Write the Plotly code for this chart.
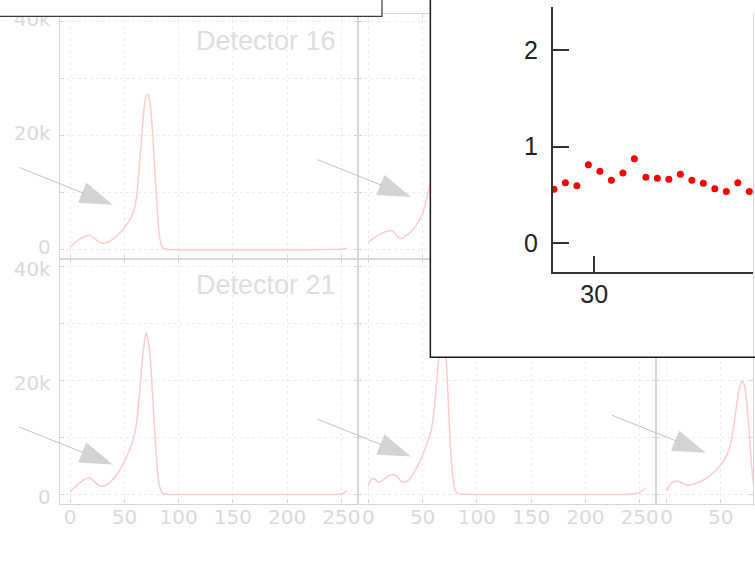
import plotly.graph_objects as go

W, H = 755, 587

# ---------------- data ----------------
channel = [0, 3, 6, 10, 14, 18, 22, 26, 30, 34, 38, 42, 46, 50, 54, 58, 61, 64, 66, 68,
           70, 72, 74, 76, 78, 80, 82, 85, 90, 130, 170, 210, 240, 250, 255]

det16 = [500, 1000, 1500, 2000, 2400, 2550, 2100, 1450, 1150, 1300, 1700, 2300, 3000, 3900, 5000, 6500,
         9000, 15000, 20000, 24500, 27000, 27200, 25300, 20500, 14000, 8000, 2800, 400, 80, 50, 40, 40, 60, 100, 250]
det17 = [1300, 1860, 2200, 2650, 3050, 3300, 3400, 2550, 1950, 2400, 2950, 3800, 4900, 6300, 9200, 12500,
         16000, 21000, 25000, 28500, 29500, 27500, 22500, 15500, 8500, 3500, 1000, 200, 80, 50, 40, 40, 60, 200, 800]
det18 = [800, 1700, 2300, 2500, 2200, 1800, 1800, 2000, 2200, 2600, 3000, 3600, 4400, 5300, 6400, 8200,
         11000, 15000, 18000, 20500, 21000, 20000, 16500, 11500, 6500, 2800, 900, 200, 80, 50, 40, 40, 60, 150, 600]
det21 = [500, 1100, 1650, 2250, 2750, 3000, 2350, 1700, 1500, 1850, 2450, 3300, 4400, 5800, 7500, 9700,
         12300, 18000, 22500, 26300, 28350, 27000, 23500, 17500, 11000, 5500, 1800, 300, 100, 60, 50, 50, 60, 150, 700]
det22 = [1500, 2840, 2720, 2150, 2650, 3250, 3500, 3300, 2400, 2250, 2750, 3950, 5300, 6900, 9000, 11400,
         15500, 22000, 27000, 30500, 29000, 23000, 15000, 7000, 2700, 900, 250, 150, 100, 60, 50, 50, 80, 400, 1100]
det23 = [700, 1700, 2250, 2430, 2150, 1750, 1750, 1950, 2200, 2600, 3100, 3700, 4400, 5300, 6400, 8200,
         10800, 15000, 17500, 19300, 19950, 19000, 16000, 11500, 6000, 2000, 600, 150, 80, 50, 40, 40, 60, 150, 600]

detector_titles = ["Detector 16", None, None, "Detector 21", None, None]

x_ticks = [0, 50, 100, 150, 200, 250]
y_ticks = [0, 10000, 20000, 30000, 40000]
y_ticktext = ["0", "", "20k", "", "40k"]

ratio_x = [26.5, 27.5, 28.5, 29.5, 30.5, 31.5, 32.5, 33.5, 34.5, 35.5, 36.5, 37.5, 38.5, 39.5,
           40.5, 41.5, 42.5, 43.5]
ratio_y = [0.557, 0.625, 0.595, 0.812, 0.743, 0.652, 0.727, 0.873, 0.682, 0.672, 0.662, 0.713,
           0.652, 0.621, 0.564, 0.534, 0.625, 0.534]

# ---------------- styling / layout geometry ----------------
AX_COL = "#d6d6d6"
GRID_COL = "#ececec"
LBL_COL = "#dadada"
TITLE_COL = "#dedede"
CURVE_COL = "#ffcaca"

COL_PX = [(60, 359), (359, 658), (658, 755)]
ROW_PX = [(7, 257), (257, 507)]
PX_PER_UNIT = 1.088
X0 = -9.5
XRANGES = [[X0, X0 + (c[1] - c[0]) / PX_PER_UNIT] for c in COL_PX]
YR = [-1545, 41370]
ROW_LABEL_SHIFT = [-3, 2]

fig = go.Figure()
series = [det16, det17, det18, det21, det22, det23]

layout_axes = {}
for i, ys in enumerate(series):
    row, col = divmod(i, 3)
    n = i + 1
    sfx = "" if n == 1 else str(n)
    fig.add_trace(go.Scatter(x=channel, y=ys, mode="lines",
                             line=dict(color=CURVE_COL, width=1.5, shape="spline", smoothing=0.6),
                             xaxis="x" + sfx, yaxis="y" + sfx, hoverinfo="skip"))
    common = dict(showline=True, linecolor=AX_COL, linewidth=1.3, mirror="ticks",
                  ticks="inside", ticklen=4, tickwidth=1, tickcolor=AX_COL,
                  showgrid=True, gridcolor=GRID_COL, griddash="dot", gridwidth=1,
                  zeroline=False,
                  tickfont=dict(family="DejaVu Sans", size=20, color=LBL_COL))
    layout_axes["xaxis" + sfx] = dict(common,
                                      domain=[COL_PX[col][0] / W, COL_PX[col][1] / W],
                                      range=XRANGES[col], tickvals=x_ticks,
                                      showticklabels=(row == 1),
                                      ticklabelstandoff=-5,
                                      anchor="y" + sfx)
    layout_axes["yaxis" + sfx] = dict(common,
                                      domain=[1 - ROW_PX[row][1] / H, 1 - ROW_PX[row][0] / H],
                                      range=YR, tickvals=y_ticks, ticktext=y_ticktext,
                                      showticklabels=(col == 0),
                                      ticklabelstandoff=4,
                                      ticklabelshift=ROW_LABEL_SHIFT[row],
                                      anchor="x" + sfx)

# cover boxes (white panels overlapping the grid)
TL_BOX = (0, 383, 0, 9.5)          # x0,x1,y0,y1 px
INSET_BOX = (431.5, 755, 0, 357.5)
for n, box in ((7, TL_BOX), (8, INSET_BOX)):
    s = str(n)
    fig.add_trace(go.Scatter(x=[None], y=[None], xaxis="x" + s, yaxis="y" + s,
                             hoverinfo="skip", showlegend=False))
    hid = dict(showline=False, showgrid=False, zeroline=False, showticklabels=False,
               ticks="", range=[0, 1], fixedrange=True)
    layout_axes["xaxis" + s] = dict(hid, domain=[box[0] / W, box[1] / W], anchor="y" + s)
    layout_axes["yaxis" + s] = dict(hid, domain=[1 - box[3] / H, 1 - box[2] / H], anchor="x" + s)

# inset scatter
fig.add_trace(go.Scatter(x=ratio_x, y=ratio_y, mode="markers",
                         marker=dict(color="#ff0000", size=7),
                         xaxis="x9", yaxis="y9", hoverinfo="skip"))
inset_common = dict(showline=True, linecolor="#333333", linewidth=1.5, ticks="inside",
                    ticklen=17, tickwidth=1.5, tickcolor="#333333", showgrid=False,
                    zeroline=False, mirror=False,
                    tickfont=dict(family="Liberation Sans, Arial", size=25, color="#222222"))
layout_axes["xaxis9"] = dict(inset_common, domain=[554 / W, 1], range=[26.38, 43.82],
                             tickvals=[30], anchor="y9", ticklabelstandoff=-1)
layout_axes["yaxis9"] = dict(inset_common, domain=[1 - 271 / H, 1], range=[-0.305, 2.447],
                             tickvals=[0, 1, 2], anchor="x9", ticklabelstandoff=8)

# ---------------- annotations / arrows ----------------
annotations = []
for i, t in enumerate(detector_titles):
    if t is None:
        continue
    n = i + 1
    sfx = "" if n == 1 else str(n)
    annotations.append(dict(text=t, x=247, y=36700, xref="x" + sfx, yref="y" + sfx,
                            xanchor="right", yanchor="middle", showarrow=False,
                            font=dict(family="Liberation Sans, Arial", size=27, color=TITLE_COL)))

# arrow tips (panel index, channel, counts)
arrow_tips = [(0, 39.3, 7900), (1, 39.3, 9270), (3, 39.3, 5320), (4, 39.3, 6700), (5, 36.0, 7380)]
TAIL_DX, TAIL_DY = -95, -38
HEAD_LEN, HEAD_HALF = 33, 11

def to_px(i, x, y):
    row, col = divmod(i, 3)
    c0, c1 = COL_PX[col]
    r = XRANGES[col]
    px = c0 + (x - r[0]) / (r[1] - r[0]) * (c1 - c0)
    t0, t1 = ROW_PX[row]
    py = t1 - (y - YR[0]) / (YR[1] - YR[0]) * (t1 - t0)
    return px, py

shapes = []
L = (TAIL_DX ** 2 + TAIL_DY ** 2) ** 0.5
ux, uy = -TAIL_DX / L, -TAIL_DY / L
nx, ny = -uy, ux
for i, x, y in arrow_tips:
    sfx = "" if i == 0 else str(i + 1)
    annotations.append(dict(text="", x=x, y=y, xref="x" + sfx, yref="y" + sfx,
                            ax=TAIL_DX, ay=TAIL_DY, showarrow=True, arrowhead=0,
                            arrowwidth=1, arrowcolor="#c2c2c2", standoff=HEAD_LEN - 2))
    tx, ty = to_px(i, x, y)
    bx, by = tx - HEAD_LEN * ux, ty - HEAD_LEN * uy
    pts = [(tx, ty), (bx + HEAD_HALF * nx, by + HEAD_HALF * ny), (bx - HEAD_HALF * nx, by - HEAD_HALF * ny)]
    path = "M " + " L ".join(f"{px / W:.5f},{1 - py / H:.5f}" for px, py in pts) + " Z"
    shapes.append(dict(type="path", path=path, xref="paper", yref="paper",
                       fillcolor="#d3d3d3", line=dict(width=0), layer="above"))

# box borders
shapes.append(dict(type="rect", xref="paper", yref="paper",
                   x0=TL_BOX[0] / W - 0.02, x1=TL_BOX[1] / W,
                   y0=1 - TL_BOX[3] / H, y1=1.02,
                   line=dict(color="#3a3a3a", width=1.2), fillcolor="rgba(0,0,0,0)", layer="above"))
shapes.append(dict(type="rect", xref="paper", yref="paper",
                   x0=INSET_BOX[0] / W, x1=INSET_BOX[1] / W + 0.02,
                   y0=1 - INSET_BOX[3] / H, y1=1.02,
                   line=dict(color="#1a1a1a", width=1.5), fillcolor="rgba(0,0,0,0)", layer="above"))

fig.update_layout(width=W, height=H, margin=dict(l=0, r=0, t=0, b=0),
                  paper_bgcolor="white", plot_bgcolor="white", showlegend=False,
                  annotations=annotations, shapes=shapes, **layout_axes)

fig.write_html("out.html")
